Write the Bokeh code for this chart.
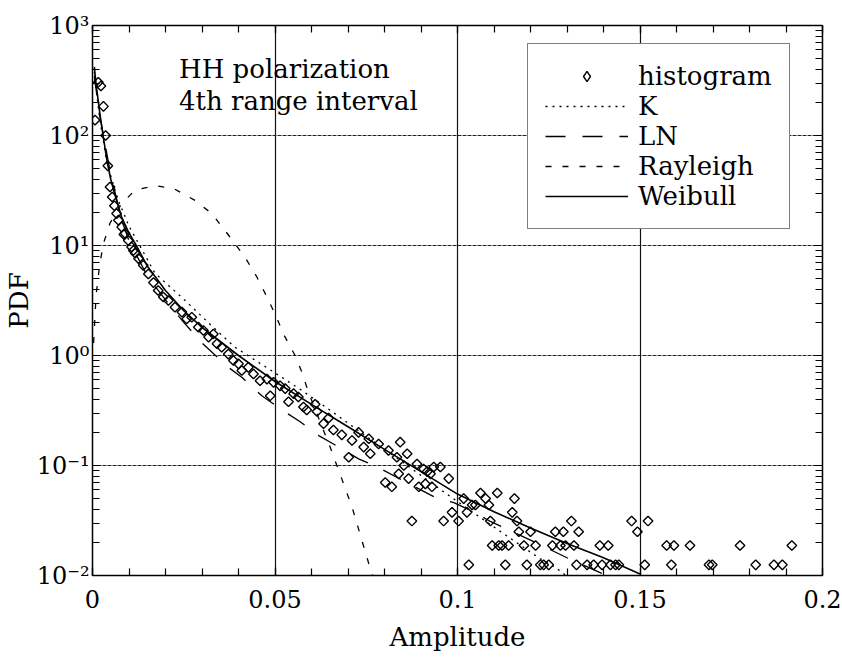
import math
from bokeh.plotting import figure
from bokeh.models import FixedTicker, LinearAxis, LogAxis, Legend, LegendItem, Label
from bokeh.embed import file_html
from bokeh.resources import INLINE

# ---------------- data ----------------
hist_x = [0.0007, 0.0016, 0.0023, 0.0030, 0.0036, 0.0042, 0.0048, 0.0054, 0.0060, 0.0066,
          0.0071, 0.0080, 0.0086, 0.0089, 0.0098, 0.0107, 0.0112, 0.0117, 0.0126, 0.0139,
          0.0153, 0.0167, 0.0180, 0.0194, 0.0208, 0.0226, 0.0245, 0.0258, 0.0272, 0.0290,
          0.0304, 0.0318, 0.0331, 0.0341, 0.0354, 0.0372, 0.0386, 0.0400, 0.0409, 0.0427,
          0.0441, 0.0459, 0.0478, 0.0487, 0.0496, 0.0514, 0.0528, 0.0537, 0.0551, 0.0564,
          0.0578, 0.0587, 0.0610, 0.0615, 0.0633, 0.0647, 0.0660, 0.0683, 0.0702, 0.0711,
          0.0729, 0.0743, 0.0757, 0.0761, 0.0784, 0.0802, 0.0811, 0.0820, 0.0834, 0.0843,
          0.0839, 0.0853, 0.0862, 0.0866, 0.0875, 0.0889, 0.0894, 0.0907, 0.0912, 0.0917,
          0.0926, 0.0930, 0.0935, 0.0953, 0.0962, 0.0976, 0.0985, 0.1003, 0.1017, 0.1026,
          0.1040, 0.1049, 0.1063, 0.1077, 0.1086, 0.1090, 0.1109, 0.1150, 0.1156, 0.1163,
          0.1168, 0.1200, 0.1268, 0.1290, 0.1312, 0.1332, 0.1477, 0.1493, 0.1522,
          # 3-count row
          0.1095, 0.1113, 0.1122, 0.1140, 0.1182, 0.1214, 0.1260, 0.1282, 0.1296, 0.1319,
          0.1390, 0.1413, 0.1573, 0.1593, 0.1637, 0.1774, 0.1916,
          # 2-count row
          0.1031, 0.1131, 0.1190, 0.1227, 0.1236, 0.1250, 0.1326, 0.1355, 0.1373, 0.1396,
          0.1419, 0.1433, 0.1442, 0.1513, 0.1586, 0.1689, 0.1698, 0.1817, 0.1867, 0.1890]
hist_y = [138, 305, 282, 184, 100, 53, 34, 27.6, 23, 19.5,
          17, 14.7, 12.6, 12.9, 11.1, 9.7, 9.0, 8.5, 7.6, 6.6,
          5.5, 4.6, 3.9, 3.4, 3.16, 2.75, 2.48, 2.15, 2.23, 1.81,
          1.69, 1.47, 1.57, 1.28, 1.19, 1.03, 0.90, 0.84, 0.73, 0.78,
          0.68, 0.59, 0.61, 0.43, 0.57, 0.53, 0.50, 0.38, 0.45, 0.42,
          0.34, 0.32, 0.36, 0.31, 0.24, 0.27, 0.21, 0.19, 0.119, 0.169,
          0.20, 0.147, 0.175, 0.128, 0.157, 0.070, 0.137, 0.064, 0.119, 0.163,
          0.084, 0.100, 0.128, 0.076, 0.03125, 0.103, 0.064, 0.093, 0.068, 0.088,
          0.084, 0.064, 0.097, 0.097, 0.03125, 0.076, 0.0375, 0.03125, 0.05, 0.0375,
          0.04375, 0.04375, 0.05625, 0.05, 0.04375, 0.03125, 0.05625, 0.0375, 0.05, 0.03125,
          0.025, 0.025, 0.025, 0.025, 0.03125, 0.025, 0.03125, 0.025, 0.03125,
          0.01875, 0.01875, 0.01875, 0.01875, 0.01875, 0.01875, 0.01875, 0.01875, 0.01875, 0.01875,
          0.01875, 0.01875, 0.01875, 0.01875, 0.01875, 0.01875, 0.01875,
          0.0125, 0.0125, 0.0125, 0.0125, 0.0125, 0.0125, 0.0125, 0.0125, 0.0125, 0.0125,
          0.0125, 0.0125, 0.0125, 0.0125, 0.0125, 0.0125, 0.0125, 0.0125, 0.0125, 0.0125]

k_x = [0.0005, 0.001, 0.002, 0.004, 0.007, 0.010, 0.0171, 0.0254, 0.032, 0.039,
       0.049, 0.0574, 0.065, 0.075, 0.085, 0.0958, 0.105, 0.112, 0.122, 0.128, 0.1305]
k_y = [380, 260, 140, 55, 26, 15, 5.6, 3.16, 1.95, 1.19,
       0.73, 0.48, 0.32, 0.184, 0.107, 0.059, 0.036, 0.0248, 0.0147, 0.0111, 0.0095]

ln_x = [0.0005, 0.001, 0.002, 0.003, 0.005, 0.008, 0.010, 0.015, 0.020, 0.025,
        0.030, 0.034, 0.0357, 0.0409, 0.0464, 0.0519, 0.0569, 0.062, 0.066, 0.0729,
        0.078, 0.094, 0.099, 0.105, 0.109, 0.120, 0.130, 0.140]
ln_y = [350, 260, 150, 100, 44, 17, 11, 5.3, 3.2, 2.0,
        1.3, 0.98, 0.85, 0.635, 0.43, 0.32, 0.25, 0.187, 0.157, 0.115,
        0.097, 0.051, 0.046, 0.037, 0.031, 0.021, 0.0145, 0.0103]

ray_x = [0.0003, 0.001, 0.002, 0.003, 0.0048, 0.008, 0.0117, 0.0171, 0.0222, 0.0281,
         0.0327, 0.0377, 0.0418, 0.045, 0.0478, 0.0505, 0.0523, 0.0555, 0.0574, 0.0592,
         0.0651, 0.0671, 0.0711, 0.0757, 0.0768]
ray_y = [1.3, 3.6, 6.8, 10.4, 16, 24, 32, 35, 33, 25.7,
         19.5, 11.9, 7.8, 5.2, 3.4, 2.2, 1.57, 1.0, 0.70, 0.46,
         0.147, 0.097, 0.042, 0.0128, 0.0100]

wei_x = [0.0005, 0.001, 0.002, 0.003, 0.004, 0.005, 0.006, 0.008, 0.010, 0.012,
         0.015, 0.020, 0.025, 0.030, 0.040, 0.050, 0.060, 0.070, 0.080, 0.090,
         0.100, 0.110, 0.120, 0.130, 0.140, 0.150]
wei_y = [420, 290, 160, 95, 58, 40, 30, 18, 13, 10,
         6.5, 3.9, 2.55, 1.8, 1.0, 0.58, 0.36, 0.225, 0.14, 0.088,
         0.055, 0.038, 0.027, 0.0195, 0.0145, 0.0103]

x_ticks = [0, 0.05, 0.1, 0.15, 0.2]
x_tick_labels = ["0", "0.05", "0.1", "0.15", "0.2"]
y_ticks = [0.01, 0.1, 1, 10, 100, 1000]
y_tick_labels = ["10\u207b\u00b2", "10\u207b\u00b9", "10\u2070", "10\u00b9", "10\u00b2", "10\u00b3"]
legend_labels = ["histogram", "K", "LN", "Rayleigh", "Weibull"]
note_lines = ["HH polarization", "4th range interval"]

FONT = "DejaVu Serif"

# ---------------- figure ----------------
p = figure(width=842, height=661, x_range=(0, 0.2), y_range=(0.01, 1000),
           y_axis_type="log", output_backend="svg", toolbar_location=None,
           min_border_left=92, min_border_right=20, min_border_top=25,
           min_border_bottom=86, background_fill_color="white",
           border_fill_color="white")
p.outline_line_color = "black"
p.outline_line_width = 1.5

x_minor = [i / 100 for i in range(0, 21)]
y_minor = []
for e in range(-2, 3):
    for m in range(2, 10):
        y_minor.append(m * 10.0 ** e)

def style_axis(ax):
    ax.axis_line_color = None
    ax.major_tick_in = 8
    ax.major_tick_out = 0
    ax.minor_tick_in = 7
    ax.minor_tick_out = 0
    ax.major_tick_line_color = "black"
    ax.minor_tick_line_color = "black"
    ax.major_tick_line_width = 1.2
    ax.minor_tick_line_width = 1.2
    ax.major_label_text_font = FONT
    ax.major_label_text_font_size = "24px"
    ax.major_label_text_color = "black"
    ax.axis_label_text_font = FONT
    ax.axis_label_text_font_size = "26px"
    ax.axis_label_text_font_style = "normal"
    ax.axis_label_text_color = "black"

xa = p.xaxis[0]
xa.ticker = FixedTicker(ticks=x_ticks, minor_ticks=x_minor)
xa.major_label_overrides = {t: l for t, l in zip(x_ticks, x_tick_labels)}
xa.axis_label = "Amplitude"
style_axis(xa)
xa.major_label_standoff = 14
xa.axis_label_standoff = 11

ya = p.yaxis[0]
ya.ticker = FixedTicker(ticks=y_ticks, minor_ticks=y_minor)
ya.major_label_overrides = {t: l for t, l in zip(y_ticks, y_tick_labels)}
ya.axis_label = "PDF"
style_axis(ya)
ya.major_label_standoff = 3
ya.axis_label_standoff = 0

# mirror axes (ticks only) on top and right
top = LinearAxis(ticker=FixedTicker(ticks=x_ticks, minor_ticks=x_minor))
style_axis(top)
top.major_label_overrides = {t: "" for t in x_ticks}
top.major_label_standoff = 0
p.add_layout(top, "above")
right = LogAxis(ticker=FixedTicker(ticks=y_ticks, minor_ticks=y_minor))
style_axis(right)
right.major_label_overrides = {t: "" for t in y_ticks}
right.major_label_standoff = 0
p.add_layout(right, "right")

p.xgrid.ticker = FixedTicker(ticks=[0.05, 0.1, 0.15])
p.xgrid.grid_line_color = "#111111"
p.xgrid.grid_line_width = 1.2
p.ygrid.ticker = FixedTicker(ticks=[0.1, 1, 10, 100])
p.ygrid.grid_line_color = "#222222"
p.ygrid.grid_line_width = 1.2
p.ygrid.grid_line_dash = "4 1"

# ---------------- glyphs ----------------
r_k = p.line(k_x, k_y, line_color="black", line_width=1.3, line_dash="2 5")
r_ln = p.line(ln_x, ln_y, line_color="black", line_width=1.3, line_dash="20 17")
r_ray = p.line(ray_x, ray_y, line_color="black", line_width=1.3, line_dash="6 11")
r_wei = p.line(wei_x, wei_y, line_color="black", line_width=1.6)
r_hist = p.scatter(hist_x, hist_y, marker="square", angle=math.pi / 4, size=6.8,
                   line_color="black", line_width=1.4, fill_alpha=0)
# legend key for the histogram: same diamond symbol (hidden in the plot itself,
# only its small key swatch is shown in the legend)
r_hist_key = p.scatter(hist_x[:1], hist_y[:1], marker="diamond", size=9,
                       line_color="black", line_width=1.4, fill_alpha=0,
                       visible=False)

legend = Legend(items=[
    LegendItem(label=legend_labels[0], renderers=[r_hist_key]),
    LegendItem(label=legend_labels[1], renderers=[r_k]),
    LegendItem(label=legend_labels[2], renderers=[r_ln]),
    LegendItem(label=legend_labels[3], renderers=[r_ray]),
    LegendItem(label=legend_labels[4], renderers=[r_wei]),
], location=(435, 346))
legend.label_text_font = FONT
legend.label_text_font_size = "26px"
legend.label_text_color = "black"
legend.glyph_width = 83
legend.glyph_height = 26
legend.label_height = 26
legend.label_standoff = 10
legend.spacing = 0
legend.padding = 17
legend.margin = 0
legend.border_line_color = "black"
legend.border_line_width = 1.2
legend.background_fill_color = "white"
legend.background_fill_alpha = 1
legend.inactive_fill_alpha = 0
p.add_layout(legend, "center")

# annotation text (placed in data coordinates)
p.add_layout(Label(x=0.0237, y=405, text=note_lines[0], text_font=FONT,
                   text_font_size="26px", text_color="black", text_baseline="alphabetic"))
p.add_layout(Label(x=0.0237, y=208, text=note_lines[1], text_font=FONT,
                   text_font_size="26px", text_color="black", text_baseline="alphabetic"))

open("out.html", "w").write(file_html(p, INLINE))
